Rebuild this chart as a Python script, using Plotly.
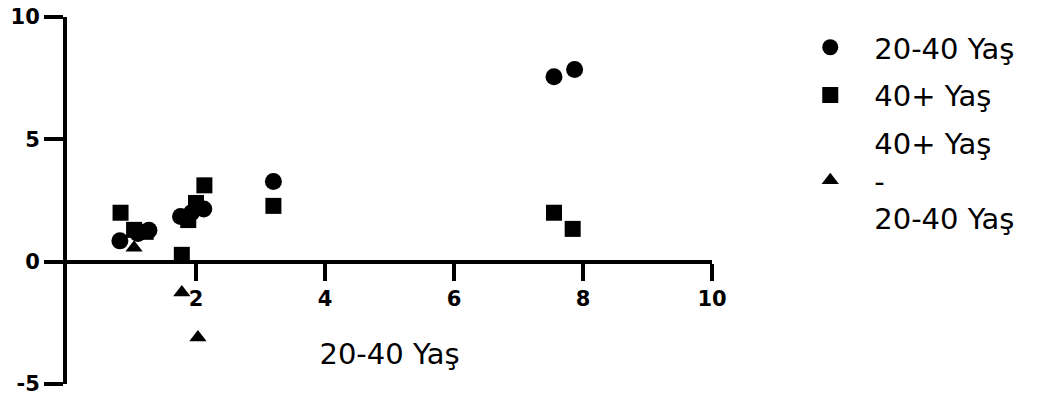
import plotly.graph_objects as go

# Data
x_2040 = [0.82, 1.10, 1.27, 1.76, 1.93, 2.12, 3.20, 7.55, 7.87]
y_2040 = [0.85, 1.15, 1.28, 1.85, 2.00, 2.15, 3.28, 7.56, 7.85]

x_40p = [0.83, 1.04, 1.22, 1.78, 1.88, 2.00, 2.13, 3.20, 7.55, 7.84]
y_40p = [2.00, 1.30, 1.22, 0.28, 1.70, 2.40, 3.12, 2.28, 2.00, 1.34]

x_diff = [1.04, 1.78, 2.03]
y_diff = [0.57, -1.26, -3.10]

x_ticks = [2, 4, 6, 8, 10]
y_ticks = [-5, 0, 5, 10]
x_range = [0, 10]
y_range = [-5, 10]

names = ["20-40 Yaş", "40+ Yaş", "40+ Yaş<br>-<br>20-40 Yaş"]
x_title = "20-40 Yaş"

fig = go.Figure()
fig.add_trace(go.Scatter(x=x_2040, y=y_2040, mode="markers", name=names[0], legendgroup="a",
                         marker=dict(symbol="circle", size=17, color="black")))
fig.add_trace(go.Scatter(x=x_40p, y=y_40p, mode="markers", name=names[1], legendgroup="b",
                         marker=dict(symbol="square", size=16, color="black")))
fig.add_trace(go.Scatter(x=x_diff, y=y_diff, mode="markers", name=names[2], legendgroup="c",
                         marker=dict(symbol="triangle-up", size=15, color="black")))

tickfont = dict(family="DejaVu Sans", size=21, color="black", weight="bold")
zero_pos = (0 - y_range[0]) / (y_range[1] - y_range[0])

fig.update_layout(
    width=1045, height=398,
    margin=dict(l=67, r=333, t=17, b=14),
    paper_bgcolor="white", plot_bgcolor="white",
    font=dict(family="DejaVu Sans", color="black"),
    showlegend=True,
    legend=dict(
        xref="container", yref="container",
        x=0.7524, y=0.945, xanchor="left", yanchor="top",
        font=dict(family="DejaVu Sans", size=29, color="black"),
        itemwidth=78, bgcolor="rgba(0,0,0,0)",
        traceorder="grouped", tracegroupgap=7,
        maxheight=398,
    ),
    xaxis=dict(
        range=x_range, tickvals=x_ticks, ticktext=[str(v) for v in x_ticks],
        anchor="free", position=zero_pos,
        showline=True, linecolor="black", linewidth=4,
        ticks="outside", ticklen=17, tickwidth=4, tickcolor="black",
        tickfont=tickfont, showgrid=False, zeroline=False,
        title=dict(text=x_title, font=dict(family="DejaVu Sans", size=29, color="black"),
                   standoff=33),
        automargin=False,
    ),
    yaxis=dict(
        range=y_range, tickvals=y_ticks, ticktext=[str(v) for v in y_ticks],
        showline=True, linecolor="black", linewidth=4,
        ticks="outside", ticklen=19, tickwidth=4, tickcolor="black",
        tickfont=tickfont, showgrid=False, zeroline=False,
        ticklabeloverflow="allow",
        automargin=False,
    ),
)

fig.write_html("out.html")
